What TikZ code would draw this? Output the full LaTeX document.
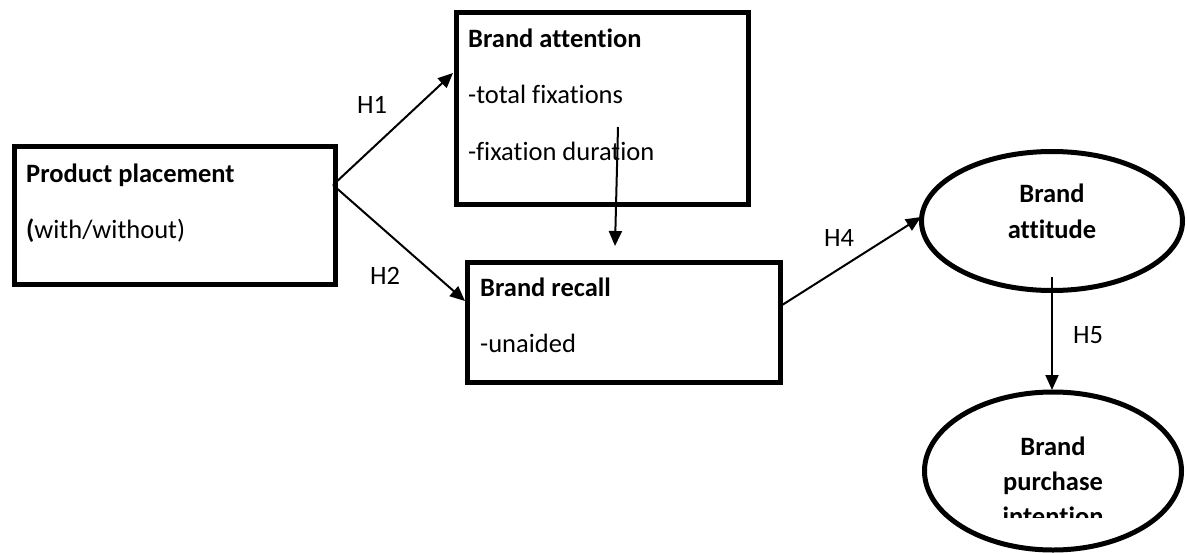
\documentclass[tikz,border=0pt]{standalone}
\usepackage{fontspec}
\setmainfont[Ligatures={NoCommon}]{Carlito}
\usetikzlibrary{arrows.meta,shapes.geometric}
\tikzset{
  boxnode/.style={draw=black, line width=4.5pt, rectangle, anchor=north west, inner sep=0pt},
  ellnode/.style={draw=black, line width=5pt, ellipse, inner sep=0pt},
  txt/.style={anchor=base west, inner sep=0pt, font=\fontsize{26.5}{31}\selectfont},
  lbl/.style={inner sep=0pt, font=\fontsize{26.5}{31}\selectfont},
  etxt/.style={inner sep=0pt, align=center, font=\fontsize{26.5}{36}\selectfont\bfseries},
  arr/.style={line width=2pt, -{Triangle[length=15pt,width=13pt]}},
}
\begin{document}
\begin{tikzpicture}[x=1pt,y=-1pt]
\useasboundingbox[fill=white] (0,0) rectangle (1187,552);
% boxes
\node[boxnode, minimum width=321pt, minimum height=138pt] (pp) at (12,144) {};
\node[boxnode, minimum width=292pt, minimum height=192pt] (ba) at (454,10) {};
\node[boxnode, minimum width=313pt, minimum height=120pt] (br) at (465,260) {};
% ellipses
\node[ellnode, minimum width=261pt, minimum height=139pt] (bat) at (1052,221) {};
\node[ellnode, minimum width=257pt, minimum height=158pt] (bpi) at (1053,471) {};
% box texts
\node[txt] (t1) at (26,182) {\bfseries Product placement};
\node[txt] (t2) at (26,238) {{\bfseries (}with/without)};
\node[txt] (t3) at (468,47) {\bfseries Brand attention};
\node[txt] (t4) at (468,103) {-total fixations};
\node[txt] (t5) at (468,160) {-fixation duration};
\node[txt] (t6) at (480,296) {\bfseries Brand recall};
\node[txt] (t7) at (480,352) {-unaided};
% ellipse texts
\node[etxt] (t8) at (1052,211) {Brand\\attitude};
\begin{scope}
\clip (900,380) rectangle (1187,517);
\node[etxt, anchor=base] (t9) at (1053,525) {intention};
\end{scope}
\node[etxt, anchor=base] (t10) at (1053,455) {Brand};
\node[etxt, anchor=base] (t11) at (1053,490) {purchase};
% connector end points
\coordinate (ppo) at (333,185);
\coordinate (bain) at (453,73);
\coordinate (brin) at (465,301);
\coordinate (bao) at (618,127);
\coordinate (brtop) at (615,246);
\coordinate (brout) at (779,307);
\coordinate (batin) at (921,217);
\coordinate (batout) at (1052,277);
\coordinate (bpiin) at (1052,390);
% arrows
\draw[arr] (ppo) -- (bain);
\draw[arr] (ppo) -- (brin);
\draw[arr] (bao) -- (brtop);
\draw[arr] (brout) -- (batin);
\draw[arr] (batout) -- (bpiin);
% labels
\node[lbl] (h1) at (372,105) {H1};
\node[lbl] (h2) at (385,276) {H2};
\node[lbl] (h4) at (839,238) {H4};
\node[lbl] (h5) at (1088,335) {H5};
\end{tikzpicture}
\end{document}
